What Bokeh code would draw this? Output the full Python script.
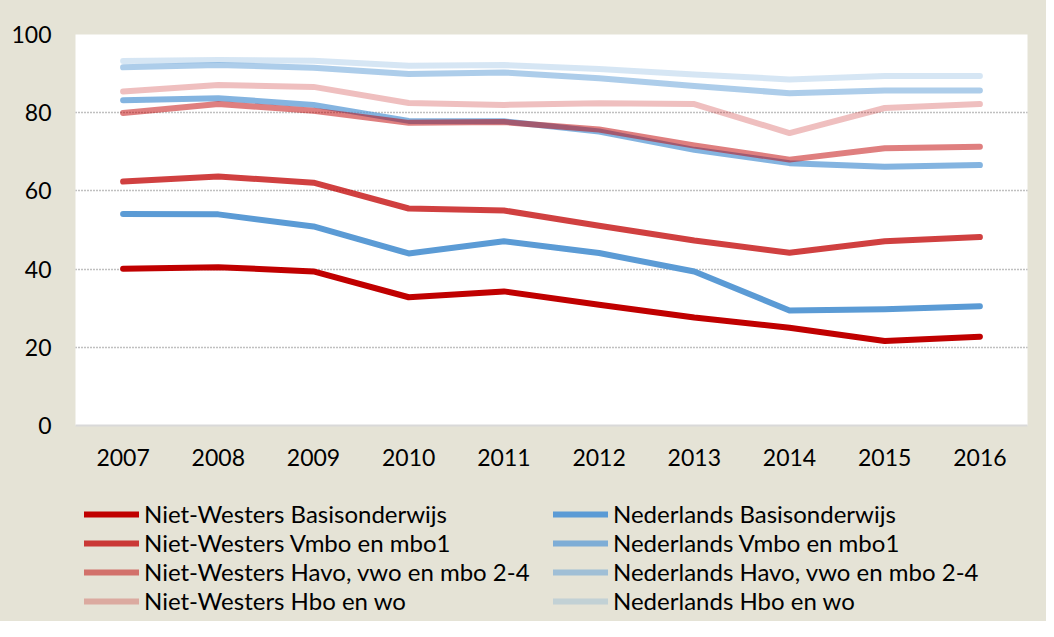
from bokeh.plotting import figure
from bokeh.layouts import column
from bokeh.models import Range1d, FactorRange, Legend, LegendItem, SingleIntervalTicker
from bokeh.embed import file_html
from bokeh.resources import INLINE

years = ["2007", "2008", "2009", "2010", "2011", "2012", "2013", "2014", "2015", "2016"]

nw_basis = [40.1, 40.5, 39.4, 32.8, 34.3, 30.9, 27.6, 25.0, 21.6, 22.7]
nl_basis = [54.1, 54.0, 50.9, 44.0, 47.1, 44.1, 39.4, 29.4, 29.7, 30.5]
nw_vmbo = [62.4, 63.7, 62.1, 55.5, 55.0, 51.1, 47.3, 44.2, 47.1, 48.2]
nl_vmbo = [83.2, 83.7, 82.0, 77.9, 77.8, 75.2, 70.5, 67.1, 66.2, 66.6]
nw_havo = [79.9, 82.2, 80.5, 77.4, 77.6, 75.7, 71.6, 68.0, 70.9, 71.3]
nl_havo = [91.6, 92.2, 91.5, 89.9, 90.3, 88.8, 86.8, 85.0, 85.7, 85.7]
nw_hbo = [85.4, 87.1, 86.6, 82.5, 82.0, 82.4, 82.2, 74.8, 81.2, 82.2]
nl_hbo = [93.2, 93.5, 93.3, 92.0, 92.2, 91.2, 89.8, 88.5, 89.4, 89.4]

series = [
    ("Niet-Westers Basisonderwijs", nw_basis, "#C00000", 1.0),
    ("Nederlands Basisonderwijs", nl_basis, "#5B9BD5", 1.0),
    ("Niet-Westers Vmbo en mbo1", nw_vmbo, "#C00000", 0.75),
    ("Nederlands Vmbo en mbo1", nl_vmbo, "#5B9BD5", 0.75),
    ("Niet-Westers Havo, vwo en mbo 2-4", nw_havo, "#C00000", 0.5),
    ("Nederlands Havo, vwo en mbo 2-4", nl_havo, "#5B9BD5", 0.5),
    ("Niet-Westers Hbo en wo", nw_hbo, "#C00000", 0.25),
    ("Nederlands Hbo en wo", nl_hbo, "#5B9BD5", 0.25),
]

BEIGE = "#E5E3D6"
FONT = "Lato"
LW = 6

p = figure(width=1046, height=480, x_range=FactorRange(*years), y_range=Range1d(0, 100),
           output_backend="svg", toolbar_location=None,
           min_border_left=75, min_border_right=19, min_border_top=34, min_border_bottom=55)
p.background_fill_color = "white"
p.border_fill_color = BEIGE
p.outline_line_color = None

for name, vals, color, alpha in series:
    p.line(years, vals, line_color=color, line_alpha=alpha, line_width=LW,
           line_cap="round", line_join="round")

# grid
p.xgrid.grid_line_color = None
p.ygrid.grid_line_color = "#808080"
p.ygrid.grid_line_dash = "1 2"
p.ygrid.grid_line_width = 1.5

# y axis
p.yaxis.ticker = SingleIntervalTicker(interval=20)
p.yaxis.axis_line_color = None
p.yaxis.major_tick_line_color = None
p.yaxis.minor_tick_line_color = None
p.yaxis.major_tick_out = 0
p.yaxis.major_tick_in = 0
p.yaxis.major_label_standoff = 20
p.yaxis.major_label_text_font = FONT
p.yaxis.major_label_text_font_size = "23px"
p.yaxis.major_label_text_color = "#000000"

# x axis
p.xaxis.axis_line_color = "#D9D9D9"
p.xaxis.axis_line_width = 2
p.xaxis.major_tick_line_color = None
p.xaxis.major_tick_out = 0
p.xaxis.major_tick_in = 0
p.xaxis.major_label_standoff = 23
p.xaxis.major_label_text_font = FONT
p.xaxis.major_label_text_font_size = "23px"
p.xaxis.major_label_text_color = "#000000"

# legend figure below the chart (its data lies outside its visible range; only the key is shown)
lf = figure(width=1046, height=141, x_range=FactorRange(*years), y_range=Range1d(-2, -1),
            output_backend="svg", toolbar_location=None,
            x_axis_type=None, y_axis_type=None,
            min_border_left=0, min_border_right=0, min_border_top=0, min_border_bottom=0)
lf.background_fill_alpha = 0
lf.border_fill_alpha = 0
lf.outline_line_color = None

keys = {}
for name, vals, color, alpha in series:
    keys[name] = lf.line(years, vals, line_color=color, line_alpha=alpha, line_width=LW,
                         line_cap="round")

left_names = ["Niet-Westers Basisonderwijs", "Niet-Westers Vmbo en mbo1",
              "Niet-Westers Havo, vwo en mbo 2-4", "Niet-Westers Hbo en wo"]
right_names = ["Nederlands Basisonderwijs", "Nederlands Vmbo en mbo1",
               "Nederlands Havo, vwo en mbo 2-4", "Nederlands Hbo en wo"]


def make_legend(names, x_off):
    lg = Legend(items=[LegendItem(label=n, renderers=[keys[n]]) for n in names],
                orientation="vertical", location=(x_off, 6))
    lg.background_fill_alpha = 0
    lg.border_line_color = None
    lg.label_text_font = FONT
    lg.label_text_font_size = "24px"
    lg.label_text_color = "#000000"
    lg.glyph_width = 55
    lg.glyph_height = 20
    lg.label_height = 20
    lg.label_standoff = 5
    lg.spacing = 0
    lg.padding = 0
    lg.margin = 0
    return lg


lf.add_layout(make_legend(left_names, 9), "center")
lf.add_layout(make_legend(right_names, 478), "center")

layout = column(p, lf, spacing=0, styles={"background-color": BEIGE})
open("out.html", "w").write(file_html(layout, INLINE))
